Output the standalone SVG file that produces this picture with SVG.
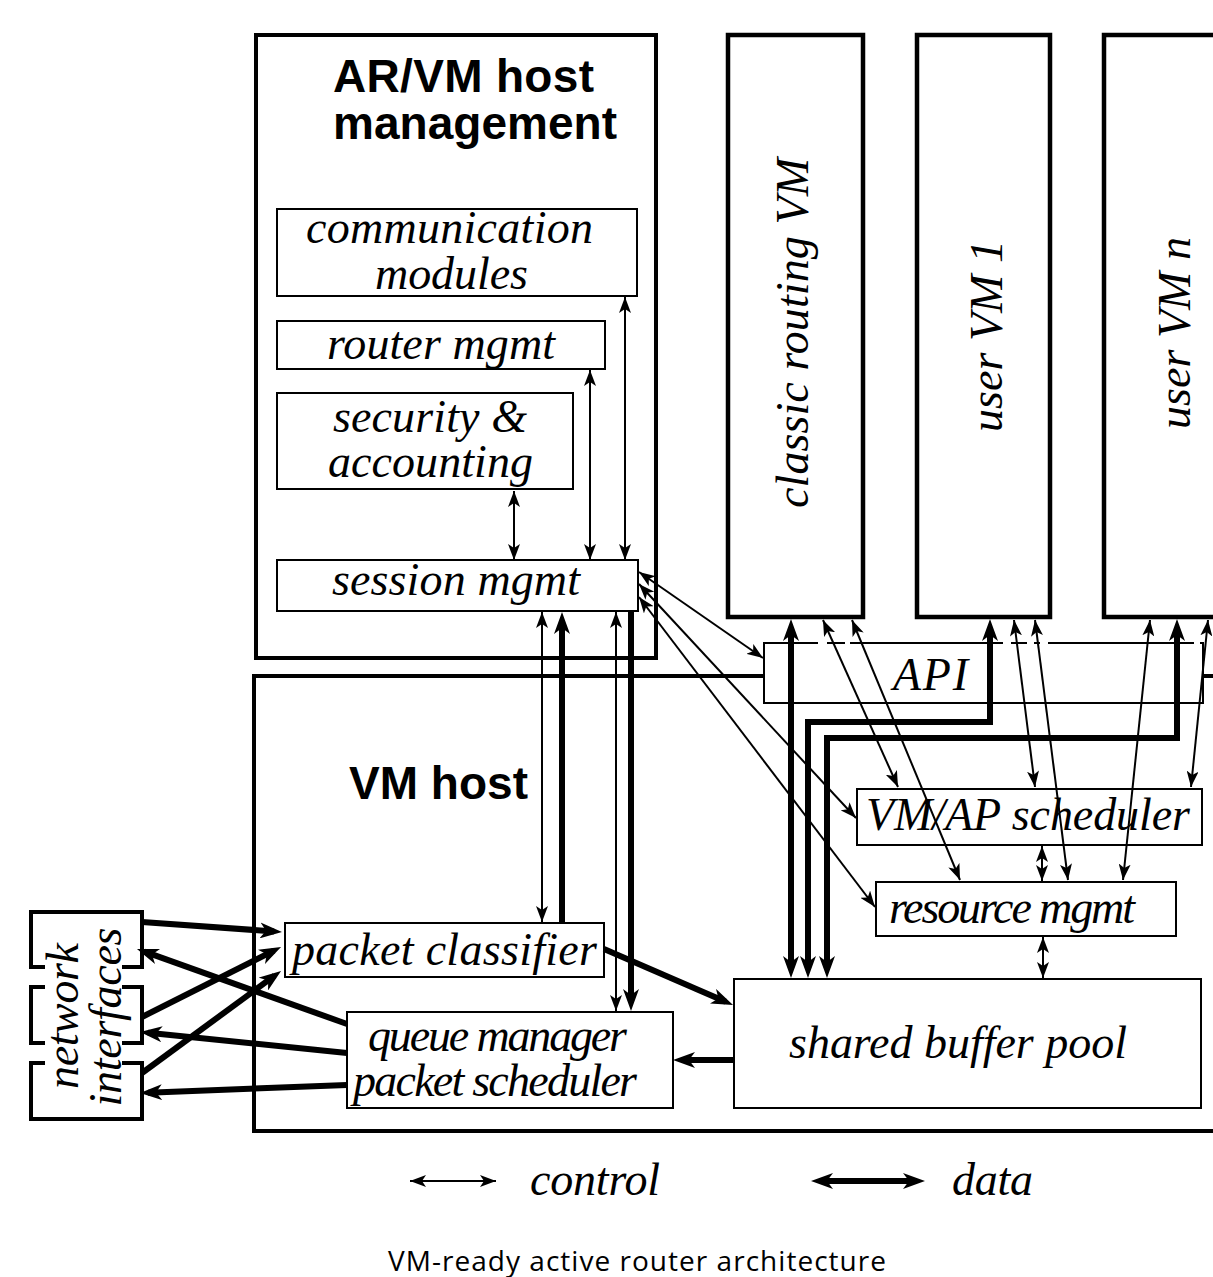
<svg xmlns="http://www.w3.org/2000/svg" width="1213" height="1277" viewBox="0 0 1213 1277">
  <style>
    .frame { fill: none; stroke: #000; stroke-width: 4; }
    .vm { fill: #fff; stroke: #000; stroke-width: 4.5; }
    .box { fill: #fff; stroke: #000; stroke-width: 2; }
    .lbl { font-family: "Liberation Serif", "Times New Roman", serif; font-style: italic; font-size: 46px; fill: #000; }
    .head { font-family: "Liberation Sans", Arial, sans-serif; font-weight: bold; font-size: 46px; fill: #000; }
    .cap { font-family: "Open Sans", "DejaVu Sans", sans-serif; font-size: 28px; fill: #000; font-variant-ligatures: none; }
    .ctl { fill: none; stroke: #000; stroke-width: 2; marker-start: url(#ah); marker-end: url(#ah); }
    .dat { fill: none; stroke: #000; stroke-width: 6; stroke-linejoin: miter; marker-end: url(#ahd); }
    .dat2 { marker-start: url(#ahd); }
    .gap { stroke: #fff; stroke-width: 3; }
  </style>
  <defs>
    <!-- thin control arrowhead -->
    <marker id="ah" viewBox="0 0 16 12" refX="16" refY="6" markerWidth="16" markerHeight="12" markerUnits="userSpaceOnUse" orient="auto-start-reverse">
      <path d="M0,0 L16,6 L0,12 L4,6 z" fill="#000"/>
    </marker>
    <!-- thick data arrowhead; tip sits 8px past the line end -->
    <marker id="ahd" viewBox="0 0 22 16" refX="14" refY="8" markerWidth="22" markerHeight="16" markerUnits="userSpaceOnUse" orient="auto-start-reverse">
      <path d="M0,0 L22,8 L0,16 L6,8 z" fill="#000"/>
    </marker>
  </defs>

  <rect width="1213" height="1277" fill="#fff"/>

  <!-- AR/VM host management -->
  <g id="host-mgmt">
    <rect class="frame" x="256" y="35" width="400" height="623"/>
    <text class="head" x="333" y="92" textLength="261">AR/VM host</text>
    <text class="head" x="333" y="139" textLength="284">management</text>
  </g>
  <g id="comm-modules">
    <rect class="box" x="277" y="209" width="360" height="87"/>
    <text class="lbl" x="306" y="243" textLength="287">communication</text>
    <text class="lbl" x="375" y="289" textLength="153">modules</text>
  </g>
  <g id="router-mgmt">
    <rect class="box" x="277" y="321" width="328" height="48"/>
    <text class="lbl" x="327" y="359" textLength="228">router mgmt</text>
  </g>
  <g id="security">
    <rect class="box" x="277" y="393" width="296" height="96"/>
    <text class="lbl" x="333" y="432" textLength="194">security &amp;</text>
    <text class="lbl" x="328" y="477" textLength="205">accounting</text>
  </g>
  <g id="session-mgmt">
    <rect class="box" x="277" y="560" width="361" height="51"/>
    <text class="lbl" x="332" y="595" textLength="248">session mgmt</text>
  </g>

  <!-- virtual machines -->
  <g id="classic-vm">
    <rect class="vm" x="728" y="35" width="135" height="582"/>
    <text class="lbl" transform="translate(808,333) rotate(-90)" text-anchor="middle" textLength="350">classic routing VM</text>
  </g>
  <g id="user-vm-1">
    <rect class="vm" x="917" y="35" width="133" height="582"/>
    <text class="lbl" transform="translate(1002,336) rotate(-90)" text-anchor="middle" textLength="192">user VM 1</text>
  </g>
  <g id="user-vm-n">
    <rect class="vm" x="1104" y="35" width="140" height="582"/>
    <text class="lbl" transform="translate(1190,333) rotate(-90)" text-anchor="middle" textLength="192">user VM n</text>
  </g>

  <!-- VM host -->
  <g id="vm-host">
    <rect class="frame" x="254" y="676" width="1000" height="455"/>
    <text class="head" x="349" y="799" textLength="179">VM host</text>
  </g>
  <g id="api">
    <rect class="box" x="764" y="643" width="439" height="60"/>
    <line class="gap" x1="818" y1="643" x2="827" y2="643"/>
    <line class="gap" x1="845" y1="643" x2="850" y2="643"/>
    <line class="gap" x1="1003" y1="643" x2="1011" y2="643"/>
    <line class="gap" x1="1027" y1="643" x2="1034" y2="643"/>
    <line class="gap" x1="1040" y1="643" x2="1048" y2="643"/>
    <line class="gap" x1="1194" y1="643" x2="1200" y2="643"/>
    <text class="lbl" x="893" y="690" textLength="75">API</text>
  </g>
  <g id="packet-classifier">
    <rect class="box" x="285" y="923" width="319" height="54"/>
    <text class="lbl" x="292" y="965" textLength="305">packet classifier</text>
  </g>
  <g id="queue-manager">
    <rect class="box" x="347" y="1012" width="326" height="96"/>
    <text class="lbl" x="368" y="1051" font-size="41" textLength="259">queue manager</text>
    <text class="lbl" x="353" y="1096" font-size="41" textLength="284">packet scheduler</text>
  </g>
  <g id="shared-buffer-pool">
    <rect class="box" x="734" y="979" width="467" height="129"/>
    <text class="lbl" x="789" y="1058" textLength="338">shared buffer pool</text>
  </g>
  <g id="vmap-scheduler">
    <rect class="box" x="857" y="789" width="345" height="56"/>
    <text class="lbl" x="866" y="830" textLength="324">VM/AP scheduler</text>
  </g>
  <g id="resource-mgmt">
    <rect class="box" x="876" y="882" width="300" height="54"/>
    <text class="lbl" x="889" y="923" font-size="42" textLength="246">resource mgmt</text>
  </g>

  <!-- network interfaces -->
  <g id="network-interfaces">
    <path class="frame" d="M45,967 H31 V912 H142 V967 H122 M45,987 H31 V1043 H45 M122,987 H142 V1043 H122 M45,1063 H31 V1119 H142 V1063 H122"/>
    <text class="lbl" transform="translate(78,1016) rotate(-90)" text-anchor="middle" textLength="146">network</text>
    <text class="lbl" transform="translate(121,1017) rotate(-90)" text-anchor="middle" textLength="179">interfaces</text>
  </g>

  <!-- connectors -->
  <g id="connectors">
    <!-- control -->
    <line class="ctl" x1="514" y1="491" x2="514" y2="560"/>
    <line class="ctl" x1="590" y1="370" x2="590" y2="560"/>
    <line class="ctl" x1="625" y1="297" x2="625" y2="560"/>
    <line class="ctl" x1="542" y1="612" x2="542" y2="922"/>
    <line class="ctl" x1="616" y1="612" x2="616" y2="1011"/>
    <line class="ctl" x1="639" y1="572" x2="763" y2="658"/>
    <line class="ctl" x1="639" y1="584" x2="856" y2="818"/>
    <line class="ctl" x1="639" y1="597" x2="875" y2="907"/>
    <line class="ctl" x1="823" y1="620" x2="898" y2="787"/>
    <line class="ctl" x1="852" y1="620" x2="960" y2="880"/>
    <line class="ctl" x1="1014" y1="620" x2="1035" y2="787"/>
    <line class="ctl" x1="1035" y1="620" x2="1068" y2="880"/>
    <line class="ctl" x1="1150" y1="620" x2="1123" y2="880"/>
    <line class="ctl" x1="1208" y1="620" x2="1191" y2="787"/>
    <line class="ctl" x1="1042" y1="846" x2="1042" y2="881"/>
    <line class="ctl" x1="1043" y1="937" x2="1043" y2="978"/>
    <!-- data -->
    <path class="dat" d="M142,922 L274,931.4"/>
    <path class="dat" d="M347,1024 L144.5,951.7"/>
    <path class="dat" d="M142,1017 L273.9,950.6"/>
    <path class="dat" d="M347,1053 L148,1032.8"/>
    <path class="dat" d="M142,1073 L274.6,975.7"/>
    <path class="dat" d="M347,1085 L148,1092.7"/>
    <path class="dat" d="M604,949 L725.7,1001.8"/>
    <path class="dat" d="M733,1060 L681,1060"/>
    <path class="dat" d="M562,923 L562,620"/>
    <path class="dat" d="M631,611 L631,1003"/>
    <path class="dat dat2" d="M791,970 L791,627"/>
    <path class="dat dat2" d="M808,970 V722 H990 V627"/>
    <path class="dat dat2" d="M827,970 V738 H1177 V627"/>
  </g>

  <!-- legend -->
  <g id="legend">
    <line class="ctl" x1="410" y1="1181" x2="496" y2="1181"/>
    <text class="lbl" x="530" y="1195" textLength="130">control</text>
    <path class="dat dat2" d="M819,1181 L917,1181"/>
    <text class="lbl" x="952" y="1195" textLength="81">data</text>
  </g>

  <text class="cap" x="388" y="1271" textLength="498">VM-ready active router architecture</text>
</svg>
